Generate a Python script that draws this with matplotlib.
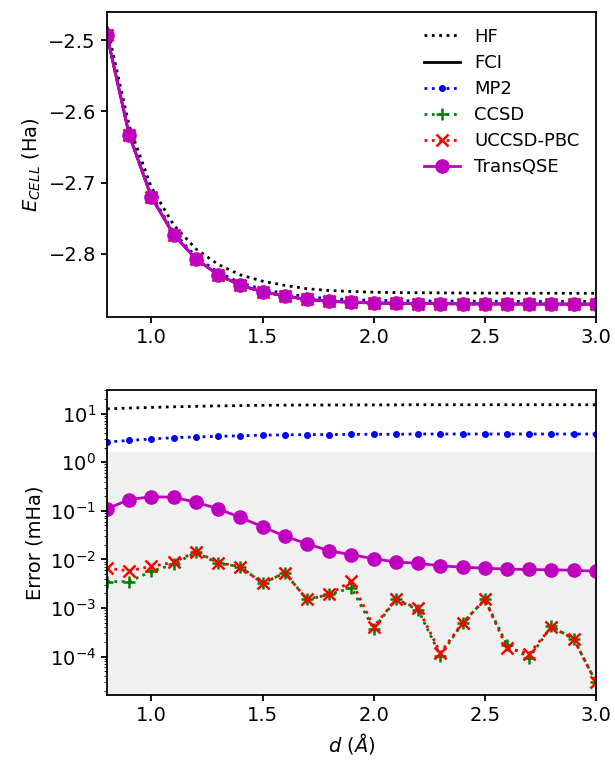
import numpy as np
import matplotlib
matplotlib.use('Agg')
import matplotlib.pyplot as plt

# bond length d (Angstrom)
d = [0.8, 0.9, 1.0, 1.1, 1.2, 1.3, 1.4, 1.5, 1.6, 1.7, 1.8, 1.9,
     2.0, 2.1, 2.2, 2.3, 2.4, 2.5, 2.6, 2.7, 2.8, 2.9, 3.0]

# FCI cell energy (Ha)
e_fci = [-2.4935, -2.6335, -2.7205, -2.7732, -2.8072, -2.8292, -2.8442,
         -2.8532, -2.8592, -2.8640, -2.8665, -2.8680, -2.8690, -2.8695,
         -2.8698, -2.8700, -2.8702, -2.8703, -2.8704, -2.8705, -2.8705,
         -2.8706, -2.8706]

# errors with respect to FCI (mHa)
err_hf = [12.5, 13.0, 13.4, 13.8, 14.1, 14.4, 14.6, 14.8, 14.9, 15.0, 15.0,
          15.1, 15.1, 15.1, 15.2, 15.2, 15.2, 15.2, 15.2, 15.2, 15.2, 15.2, 15.2]
err_mp2 = [2.6, 2.8, 3.0, 3.2, 3.3, 3.4, 3.5, 3.6, 3.65, 3.7, 3.7, 3.75,
           3.75, 3.75, 3.8, 3.8, 3.8, 3.8, 3.8, 3.8, 3.8, 3.8, 3.8]
err_ccsd = [0.0035, 0.0035, 0.0057, 0.0079, 0.014, 0.0083, 0.0071, 0.0032,
            0.0053, 0.0015, 0.0019, 0.0026, 0.00037, 0.0015, 0.00092,
            0.000105, 0.00049, 0.0015, 0.000174, 0.000095, 0.00042,
            0.00023, 0.00003]
err_uccsd = [0.0066, 0.0058, 0.0072, 0.0087, 0.0145, 0.0086, 0.0071, 0.0032,
             0.0053, 0.0015, 0.0019, 0.0036, 0.00041, 0.0015, 0.00098,
             0.00012, 0.00049, 0.0015, 0.000149, 0.000115, 0.00041,
             0.00023, 0.00003]
err_tqse = [0.11, 0.17, 0.195, 0.19, 0.15, 0.11, 0.073, 0.047, 0.030, 0.021,
            0.015, 0.0125, 0.0103, 0.0089, 0.0083, 0.0074, 0.0069, 0.0066,
            0.0063, 0.0062, 0.0061, 0.0060, 0.0057]

chem_acc = 1.6  # mHa

if __name__ == '__main__':
    plt.rcParams['font.size'] = 14
    plt.rcParams['lines.linewidth'] = 2.0
    plt.rcParams['axes.linewidth'] = 1.3
    plt.rcParams['xtick.major.width'] = 1.3
    plt.rcParams['ytick.major.width'] = 1.3
    plt.rcParams['xtick.major.size'] = 4.5
    plt.rcParams['ytick.major.size'] = 4.5
    d = np.array(d)
    e_fci = np.array(e_fci)
    e_of = lambda err: e_fci + np.array(err) * 1e-3

    fig = plt.figure(figsize=(6.15, 7.7), dpi=100)
    ax1 = fig.add_axes([0.174, 0.588, 0.795, 0.397])
    ax2 = fig.add_axes([0.174, 0.097, 0.795, 0.396])

    sty = {
        'mp2':   dict(fmt='b.:', markersize=8),
        'ccsd':  dict(fmt='g+:', markersize=8, mew=1.8),
        'uccsd': dict(fmt='rx:', markersize=8, mew=1.8),
        'tqse':  dict(fmt='mo-', markersize=9.5),
    }

    def draw(ax, x, y, key, **kw):
        s = dict(sty[key])
        fmt = s.pop('fmt')
        ax.plot(x, y, fmt, **s, **kw)

    ax1.plot(d, e_of(err_hf), 'k:', label='HF')
    ax1.plot(d, e_fci, 'k-', label='FCI')
    draw(ax1, d, e_of(err_mp2), 'mp2', label='MP2')
    draw(ax1, d, e_of(err_ccsd), 'ccsd', label='CCSD')
    draw(ax1, d, e_of(err_uccsd), 'uccsd', label='UCCSD-PBC')
    draw(ax1, d, e_of(err_tqse), 'tqse', label='TransQSE')
    ax1.set_xlim(0.8, 3.0)
    ax1.set_ylim(-2.889, -2.460)
    ax1.set_yticks([-2.5, -2.6, -2.7, -2.8])
    ax1.set_xticks([1.0, 1.5, 2.0, 2.5, 3.0])
    ax1.set_ylabel(r'$E_{CELL}$ (Ha)')
    ax1.legend(frameon=False, loc='upper right', fontsize=13,
               labelspacing=0.45)

    ax2.axhspan(1e-7, chem_acc, color='#f0f0f0', zorder=0)
    ax2.plot(d, err_hf, 'k:')
    draw(ax2, d, err_mp2, 'mp2')
    draw(ax2, d, err_ccsd, 'ccsd')
    draw(ax2, d, err_uccsd, 'uccsd')
    draw(ax2, d, err_tqse, 'tqse')
    ax2.set_yscale('log')
    ax2.set_xlim(0.8, 3.0)
    ax2.set_ylim(1.6e-5, 30)
    ax2.set_yticks([1e-4, 1e-3, 1e-2, 1e-1, 1e0, 1e1])
    ax2.set_xticks([1.0, 1.5, 2.0, 2.5, 3.0])
    ax2.set_xlabel(r'$d$ ($\AA$)')
    ax2.set_ylabel('Error (mHa)')

    fig.savefig('out.png', dpi=100)
    plt.close(fig)
